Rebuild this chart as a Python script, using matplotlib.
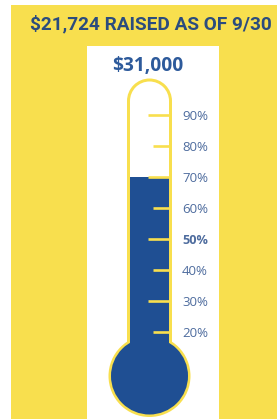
import matplotlib
matplotlib.use("Agg")
import matplotlib.pyplot as plt
from matplotlib.patches import Rectangle, Circle

# data
raised = 21724
goal = 31000
as_of = "9/30"
tick_pcts = [90, 80, 70, 60, 50, 40, 30, 20]
long_ticks = [90, 70, 50, 30]
bold_label = 50

YELLOW = "#F8DF4E"
BLUE = "#1F4F93"
TITLE_BLUE = "#2B4C7E"
LABEL_BLUE = "#4E6C9E"

# percent -> pixel row on the tube
def pct_y(p):
    return 115 + (90 - p) * 3.1

fig = plt.figure(figsize=(2.77, 4.19), dpi=100, facecolor="white")
ax = fig.add_axes([0, 0, 1, 1])
ax.set_xlim(0, 277)
ax.set_ylim(419, 0)
ax.axis("off")
renderer = fig.canvas.get_renderer()

def fit_width(t, width_px):
    # shrink/grow font so the text spans about width_px
    w = t.get_window_extent(renderer).width
    t.set_fontsize(t.get_fontsize() * width_px / w)

# background and panel
ax.add_patch(Rectangle((11, 5), 266, 414, color=YELLOW, lw=0))
ax.add_patch(Rectangle((87, 46), 132, 373, color="white", lw=0))

cx = 149.5
# yellow outline
ax.add_patch(Rectangle((127, 101), 45, 260, color=YELLOW, lw=0))
ax.add_patch(Circle((cx, 101), 22.5, color=YELLOW, lw=0))
ax.add_patch(Circle((cx, 376), 41, color=YELLOW, lw=0))
# white interior
ax.add_patch(Rectangle((130, 101), 39, 260, color="white", lw=0))
ax.add_patch(Circle((cx, 101), 19.5, color="white", lw=0))

# blue fill up to raised share
pct = raised / goal * 100
top = pct_y(pct)
ax.add_patch(Rectangle((130, top), 39, 365 - top, color=BLUE, lw=0))
ax.add_patch(Circle((cx, 376), 38.5, color=BLUE, lw=0))

# ticks and labels
for p in tick_pcts:
    y = pct_y(p)
    x0 = 148 if p in long_ticks else 153
    ax.plot([x0, 170], [y, y], color=YELLOW, lw=1.9, solid_capstyle="butt")
    lbl = ax.text(182, y + 1, f"{p}%", fontsize=8, color=LABEL_BLUE, va="center", ha="left",
                  family="Open Sans", fontweight="bold" if p == bold_label else "normal")
    fit_width(lbl, 26)

title = ax.text(151, 24, f"${raised:,} RAISED AS OF {as_of}", fontsize=14, color=TITLE_BLUE,
                ha="center", va="center", fontweight="bold", family="Roboto")
fit_width(title, 242)
amt = ax.text(148, 66, f"${goal:,}", fontsize=12, color="#2D5A9B", ha="center", va="center",
              fontweight="bold", family="Open Sans")
fit_width(amt, 71)

fig.savefig("out.png", dpi=100, facecolor="white")
